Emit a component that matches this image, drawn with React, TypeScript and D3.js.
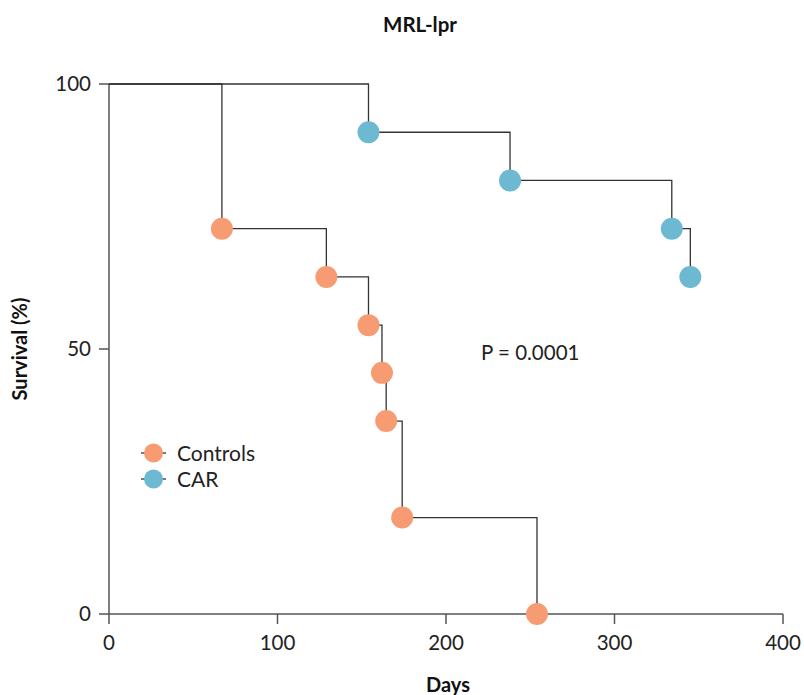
import React from "react";
import * as d3 from "d3";

const title = "MRL-lpr";
const xLabel = "Days";
const yLabel = "Survival (%)";
const pText = "P = 0.0001";
const xTicks = [0, 100, 200, 300, 400];
const yTicks = [0, 50, 100];

const controlsDays = [67, 129, 154, 162, 164.5, 174, 254];
const controlsSurv = [72.7, 63.6, 54.5, 45.5, 36.4, 18.2, 0];
const carDays = [154, 238, 334, 345];
const carSurv = [90.9, 81.8, 72.7, 63.6];

const seriesNames = ["Controls", "CAR"];
const colors = ["#F79C72", "#6DB9D1"];

const W = 804, H = 695;
const m = { left: 109, right: 21, top: 84, bottom: 81 };

export default function App() {
  const x = d3.scaleLinear().domain([0, 400]).range([m.left, W - m.right]);
  const y = d3.scaleLinear().domain([0, 100]).range([H - m.bottom, m.top]);
  const font = "Lato, 'Open Sans', sans-serif";

  const stepPath = (days: number[], surv: number[]) => {
    const pts: [number, number][] = [[0, 100]];
    let prev = 100;
    days.forEach((d, i) => {
      pts.push([d, prev]);
      pts.push([d, surv[i]]);
      prev = surv[i];
    });
    return d3.line<[number, number]>().x((p) => x(p[0])).y((p) => y(p[1]))(pts) || "";
  };

  const series = [
    { days: controlsDays, surv: controlsSurv },
    { days: carDays, surv: carSurv },
  ];

  return (
    <svg width={W} height={H} style={{ position: "absolute", left: 0, top: 0, background: "#fff" }}>
      <text x={420} y={32} textAnchor="middle" fontFamily={font} fontWeight="bold" fontSize={20.5} fill="#111">{title}</text>
      {/* axes */}
      <line x1={x(0)} x2={x(0)} y1={y(0)} y2={y(100)} stroke="#555" strokeWidth={1.5} />
      <line x1={x(0)} x2={x(400)} y1={y(0)} y2={y(0)} stroke="#555" strokeWidth={1.5} />
      {yTicks.map((t) => (
        <g key={"y" + t}>
          <line x1={x(0) - 10} x2={x(0)} y1={y(t)} y2={y(t)} stroke="#555" strokeWidth={1.5} />
          <text x={x(0) - 18} y={y(t) + 7} textAnchor="end" fontFamily={font} fontSize={20.5} fill="#222">{t}</text>
        </g>
      ))}
      {xTicks.map((t) => (
        <g key={"x" + t}>
          <line x1={x(t)} x2={x(t)} y1={y(0)} y2={y(0) + 10} stroke="#555" strokeWidth={1.5} />
          <text x={x(t)} y={y(0) + 36} textAnchor="middle" fontFamily={font} fontSize={20.5} fill="#222">{t}</text>
        </g>
      ))}
      <text x={448} y={692} textAnchor="middle" fontFamily={font} fontWeight="bold" fontSize={20} fill="#111">{xLabel}</text>
      <text transform={`translate(27,${y(50)}) rotate(-90)`} textAnchor="middle" fontFamily={font} fontWeight="bold" fontSize={20} fill="#111">{yLabel}</text>
      {/* curves */}
      {series.map((s, i) => (
        <path key={"p" + i} d={stepPath(s.days, s.surv)} fill="none" stroke="#333" strokeWidth={1.3} />
      ))}
      {series.map((s, i) =>
        s.days.map((d, j) => (
          <circle key={`c${i}-${j}`} cx={x(d)} cy={y(s.surv[j])} r={11} fill={colors[i]} />
        ))
      )}
      <text x={481} y={360} fontFamily={font} fontSize={20.5} fill="#222">{pText}</text>
      {/* legend */}
      {seriesNames.map((n, i) => (
        <g key={"l" + i} transform={`translate(0,${453 + i * 26})`}>
          <line x1={141} x2={166} y1={0} y2={0} stroke="#333" strokeWidth={1.3} />
          <circle cx={153.5} cy={0} r={9.5} fill={colors[i]} />
          <text x={177} y={7.5} fontFamily={font} fontSize={21} fill="#222">{n}</text>
        </g>
      ))}
    </svg>
  );
}
